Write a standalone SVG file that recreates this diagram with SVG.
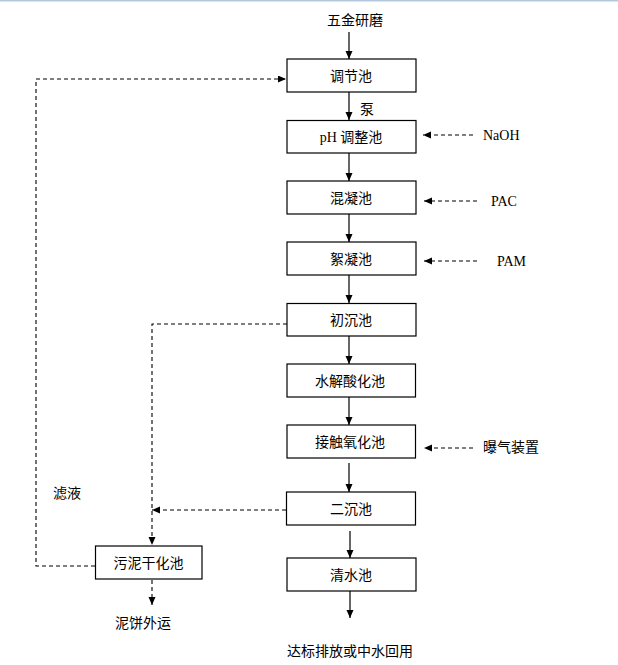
<svg xmlns="http://www.w3.org/2000/svg" width="618" height="665" viewBox="0 0 618 665">
<style>
.box{fill:#fff;stroke:#000;stroke-width:1.2}
.cn{font-family:"Noto Sans CJK SC","Noto Sans",sans-serif;font-size:14px;fill:#000}
.en{font-family:"Liberation Serif",serif;font-size:14px;fill:#000}
.c{text-anchor:middle}
.solid{stroke:#000;stroke-width:1.2;fill:none;marker-end:url(#ah)}
.dash{stroke:#000;stroke-width:1.1;fill:none;stroke-dasharray:4 3}
.da{marker-end:url(#ah)}
</style>
<defs>
<marker id="ah" markerUnits="userSpaceOnUse" markerWidth="8" markerHeight="8" refX="8" refY="3.5" orient="auto">
<path d="M0,0 L8,3.5 L0,7 z" fill="#000"/>
</marker>
</defs>
<rect x="0" y="0" width="618" height="665" fill="#fff"/>
<rect x="0" y="0" width="618" height="1.5" fill="#b4c8dc"/>
<g id="connectors">
<path class="solid" d="M349,32 V59"/>
<path class="solid" d="M349,92 V120"/>
<path class="solid" d="M349,153 V181"/>
<path class="solid" d="M349,214 V242"/>
<path class="solid" d="M349,275 V303"/>
<path class="solid" d="M349,336 V364"/>
<path class="solid" d="M349,397 V425"/>
<path class="solid" d="M349,463 V492"/>
<path class="solid" d="M350,531 V558"/>
<path class="solid" d="M350,591 V618"/>
<path class="dash da" d="M473,135 H423"/>
<path class="dash da" d="M477,201 H424"/>
<path class="dash da" d="M477,261 H424"/>
<path class="dash da" d="M473,448 H424"/>
<path class="dash da" d="M287,324 H152 V545"/>
<path class="dash da" d="M286,510 H152"/>
<path class="dash da" d="M95,566 H36 V79 H286"/>
<path class="dash da" d="M152,580 V605"/>
</g>
<g id="n_top"><text class="cn" x="327" y="25">五金研磨</text></g>
<g id="n_tiaojie"><rect class="box" x="287" y="59" width="129" height="33"/><text class="cn c" x="351" y="80.5">调节池</text></g>
<g id="l_beng"><text class="cn" x="360" y="114">泵</text></g>
<g id="n_ph"><rect class="box" x="287" y="120.5" width="129" height="32.5"/><text class="c" x="351" y="142"><tspan class="en">pH </tspan><tspan class="cn">调整池</tspan></text></g>
<g id="n_hunning"><rect class="box" x="287" y="181" width="129" height="33"/><text class="cn c" x="351" y="202.5">混凝池</text></g>
<g id="n_xuning"><rect class="box" x="287" y="242" width="129" height="33"/><text class="cn c" x="351" y="263.5">絮凝池</text></g>
<g id="n_chuchen"><rect class="box" x="287" y="303.5" width="129" height="32.5"/><text class="cn c" x="351" y="325">初沉池</text></g>
<g id="n_shuijie"><rect class="box" x="287" y="364" width="128.5" height="33"/><text class="cn c" x="350" y="385.5">水解酸化池</text></g>
<g id="n_jiechu"><rect class="box" x="287" y="425" width="128.5" height="33"/><text class="cn c" x="350" y="446.5">接触氧化池</text></g>
<g id="n_erchen"><rect class="box" x="286.5" y="492" width="129" height="33"/><text class="cn c" x="351" y="513.5">二沉池</text></g>
<g id="n_qingshui"><rect class="box" x="287" y="558" width="129" height="33"/><text class="cn c" x="351" y="579.5">清水池</text></g>
<g id="n_wuni"><rect class="box" x="95.5" y="546" width="106.5" height="33"/><text class="cn c" x="148.5" y="567.5">污泥干化池</text></g>
<g id="l_naoh"><text class="en" x="483" y="139.5">NaOH</text></g>
<g id="l_pac"><text class="en" x="491" y="205.5">PAC</text></g>
<g id="l_pam"><text class="en" x="497" y="265.5">PAM</text></g>
<g id="l_baoqi"><text class="cn" x="483" y="451.5">曝气装置</text></g>
<g id="l_lvye"><text class="cn" x="53" y="497.5">滤液</text></g>
<g id="n_nibing"><text class="cn" x="115" y="628">泥饼外运</text></g>
<g id="n_out"><text class="cn" x="287" y="656">达标排放或中水回用</text></g>
</svg>
